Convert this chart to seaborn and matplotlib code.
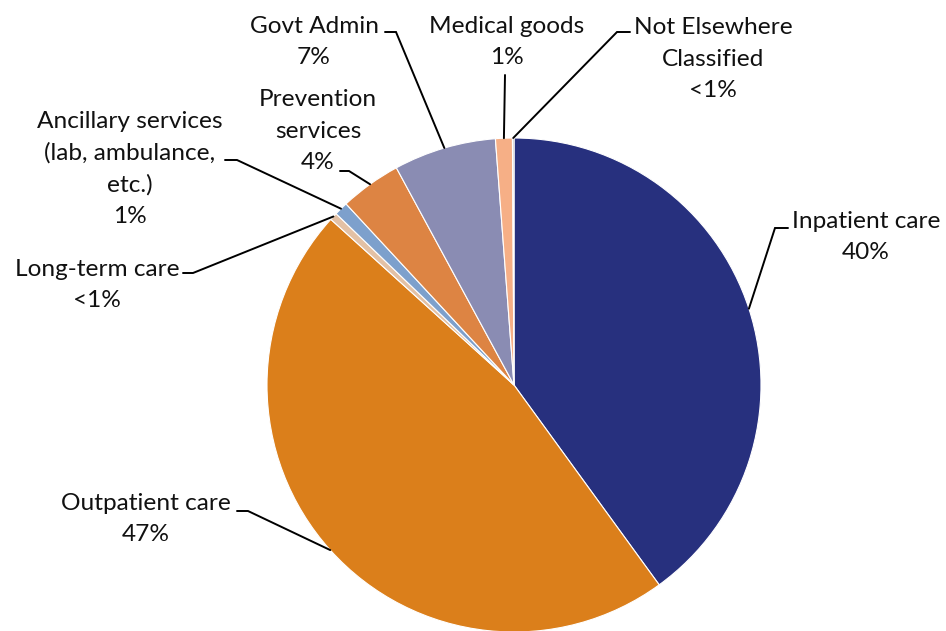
import numpy as np
import matplotlib
matplotlib.use("Agg")
import matplotlib.pyplot as plt
import seaborn as sns

categories = ["Inpatient care", "Outpatient care", "Long-term care",
              "Ancillary services\n(lab, ambulance,\netc.)", "Prevention\nservices",
              "Govt Admin", "Medical goods", "Not Elsewhere\nClassified"]
values = [40.0, 46.7, 0.5, 0.9, 4.0, 6.7, 1.1, 0.1]
pct_labels = ["40%", "47%", "<1%", "1%", "4%", "7%", "1%", "<1%"]
colors = ["#27307E", "#DB7F1B", "#E3C1A5", "#7DA0CC", "#DD8443", "#8A8CB3", "#F6AF86", "#B0B0B0"]

# label layout (pixel positions): text centre, and leader start / elbow
text_pos = [(866, 237), (146, 519), (97, 285), (130, 169), (318, 131), (314, 42), (507, 42), (713, 59)]
leader_start = [(788, 228), (237, 511), (183, 273), (225, 160), (340, 171), (385, 32), (505, 75), (630, 32)]
leader_elbow = [(775, 228), (248, 511), (193, 273), (237, 160), (349, 171), (396, 32), (505, 75), (617, 32)]

sns.set_theme(style="white")
plt.rcParams['font.family'] = ['Lato', 'DejaVu Sans']

W, H = 946, 631
CX, CY, R = 514, 385, 247
fig = plt.figure(figsize=(W / 100, H / 100), dpi=100)
ax = fig.add_axes([(CX - R) / W, (H - CY - R) / H, 2 * R / W, 2 * R / H])
ax.axis("off")

wedges, _ = ax.pie(values, colors=colors, startangle=90, counterclock=False, radius=1,
                   wedgeprops=dict(edgecolor="white", linewidth=0.8))
ax.set_xlim(-1, 1)
ax.set_ylim(-1, 1)
ax.set_aspect("auto")


def px2d(p):
    return ((p[0] - CX) / R, (CY - p[1]) / R)


total = sum(values)
cum = np.cumsum([0] + values)
for i, (cat, pct) in enumerate(zip(categories, pct_labels)):
    mid = (cum[i] + values[i] / 2) / total * 360.0
    ex, ey = np.sin(np.radians(mid)), np.cos(np.radians(mid))
    s = px2d(leader_start[i])
    e = px2d(leader_elbow[i])
    ax.plot([s[0], e[0], ex], [s[1], e[1], ey], color="black", lw=1.4, clip_on=False,
            solid_joinstyle="miter")
    tx, ty = px2d(text_pos[i])
    ax.text(tx, ty, f"{cat}\n{pct}", ha="center", va="center", multialignment="center",
            fontsize=17.6, linespacing=1.6, color="#111111")

fig.savefig("out.png", dpi=100)
